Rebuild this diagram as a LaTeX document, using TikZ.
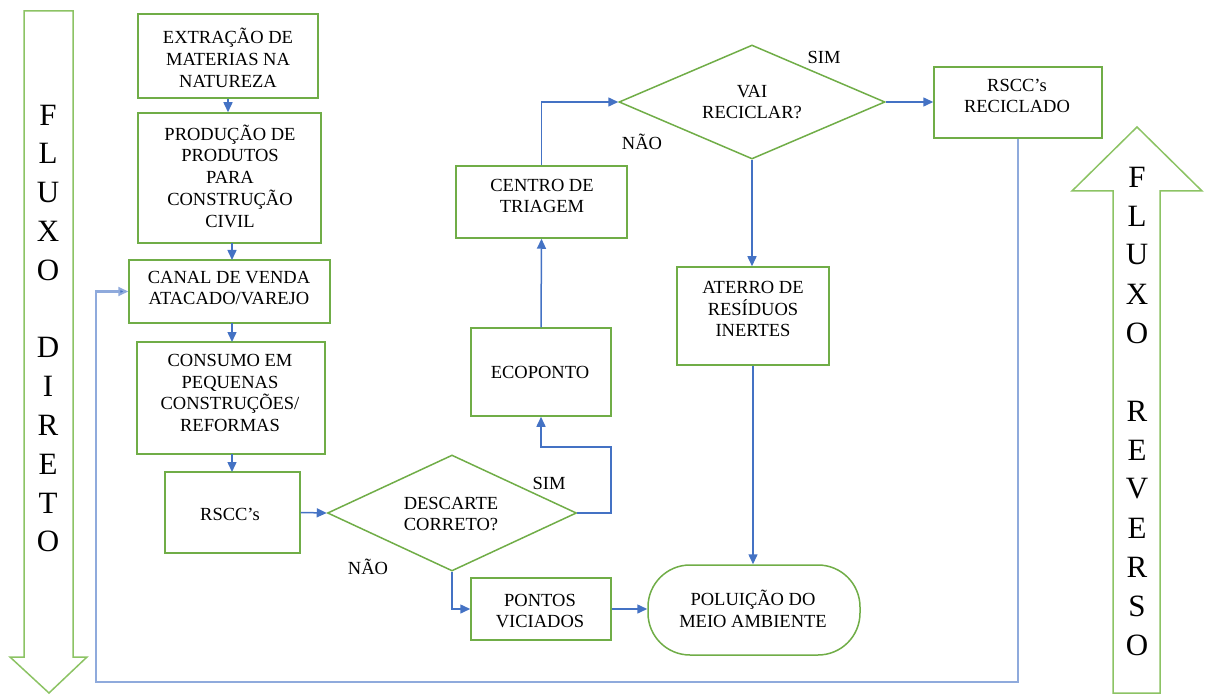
\documentclass[tikz,border=0pt]{standalone}
\usepackage{fontspec}
\setmainfont{Liberation Serif}
\usetikzlibrary{arrows.meta,shapes.geometric}
\definecolor{boxgreen}{RGB}{112,173,71}
\definecolor{arrgreen}{RGB}{140,195,100}
\definecolor{arrblue}{RGB}{68,114,196}
\definecolor{retblue}{RGB}{143,170,220}
\tikzset{
  box/.style={draw=boxgreen, line width=1.5pt, fill=white, inner sep=0pt, rectangle},
  dia/.style={draw=boxgreen, line width=1.5pt, fill=white, inner sep=0pt, diamond},
  txt/.style={align=center, inner sep=0pt, font=\fontsize{18.5}{21.7}\selectfont},
  lbl/.style={inner sep=0pt, font=\fontsize{18.5}{21.7}\selectfont},
  big/.style={inner sep=0pt, font=\fontsize{31}{36}\selectfont},
  bigarrow/.style={draw=arrgreen, line width=1.5pt, fill=white, line join=miter},
  flow/.style={draw=arrblue, line width=1.5pt, -{Triangle[length=10pt,width=9pt]}},
  ret/.style={draw=retblue, line width=2pt, -{Triangle[length=10pt,width=9pt,fill=arrblue]}},
}
\begin{document}
\begin{tikzpicture}[x=1pt,y=-1pt]
\useasboundingbox (0,0) rectangle (1208,695);

% big flow arrows
\draw[bigarrow] (24,11) -- (73,11) -- (73,657) -- (87,657) -- (49,693) -- (10,657) -- (24,657) -- cycle;
\draw[bigarrow] (1137,127) -- (1202,191) -- (1160,191) -- (1160,693) -- (1113,693) -- (1113,191) -- (1072,191) -- cycle;
\foreach \l [count=\i from 0] in {F,L,U,X,O,,D,I,R,E,T,O}
  \node[big] (ld\i) at (48,{115+38.8*\i}) {\l};
\foreach \l [count=\i from 0] in {F,L,U,X,O,,R,E,V,E,R,S,O}
  \node[big] (lr\i) at (1137,{177+39*\i}) {\l};

% boxes
\node[box, minimum width=180pt, minimum height=84pt] (ext) at (228,56) {};
\node[box, minimum width=183pt, minimum height=130pt] (prod) at (229.5,178) {};
\node[box, minimum width=201pt, minimum height=63pt] (canal) at (229.5,291.5) {};
\node[box, minimum width=188pt, minimum height=112pt] (cons) at (231,398) {};
\node[box, minimum width=135pt, minimum height=81pt] (rscc) at (232.5,512.5) {};
\node[dia, minimum width=249pt, minimum height=116pt] (desc) at (452,513) {};
\node[box, minimum width=140pt, minimum height=62pt] (pont) at (541,609) {};
\node[box, rounded corners=42pt, minimum width=212pt, minimum height=90pt] (polu) at (754,610) {};
\node[box, minimum width=152pt, minimum height=98pt] (ater) at (753,316) {};
\node[box, minimum width=140pt, minimum height=88pt] (eco) at (541,372) {};
\node[box, minimum width=171pt, minimum height=72pt] (cent) at (541.5,202) {};
\node[dia, minimum width=266pt, minimum height=114pt] (vai) at (752,102) {};
\node[box, minimum width=168pt, minimum height=71pt] (recic) at (1018,102.5) {};

% texts
\node[txt] (text) at (228,58) {EXTRAÇÃO DE\\MATERIAS NA\\NATUREZA};
\node[txt] (tprod) at (230,176) {PRODUÇÃO DE\\PRODUTOS\\PARA\\CONSTRUÇÃO\\CIVIL};
\node[txt] (tcanal) at (229,288) {CANAL DE VENDA\\ATACADO/VAREJO};
\node[txt] (tcons) at (230,393) {CONSUMO EM\\PEQUENAS\\CONSTRUÇÕES/\\REFORMAS};
\node[txt] (trscc) at (230,514) {RSCC's};
\node[txt] (tdesc) at (451,514) {DESCARTE\\CORRETO?};
\node[txt] (tpont) at (540,611) {PONTOS\\VICIADOS};
\node[txt] (tpolu) at (753,609) {POLUIÇÃO DO\\MEIO AMBIENTE};
\node[txt] (tater) at (753,309) {ATERRO DE\\RESÍDUOS\\INERTES};
\node[txt] (teco) at (540,372) {ECOPONTO};
\node[txt] (tcent) at (542,196) {CENTRO DE\\TRIAGEM};
\node[txt] (tvai) at (752,102) {VAI\\RECICLAR?};
\node[txt] (trecic) at (1017,96) {RSCC's\\RECICLADO};

% decision labels
\node[lbl] (sim1) at (549,483) {SIM};
\node[lbl] (nao1) at (368,567) {NÃO};
\node[lbl] (sim2) at (824,57) {SIM};
\node[lbl] (nao2) at (642,142) {NÃO};

% connectors
\draw[flow] (ext.south) -- (ext.south |- prod.north);
\draw[flow] (232,243) -- (232,260);
\draw[flow] (232,323) -- (232,342);
\draw[flow] (232,454) -- (232,472);
\draw[flow] (rscc.east) -- (desc.west);
\draw[flow] (desc.east) -| (611,447) -| (eco.south);
\draw[flow] (desc.south) |- (pont.west);
\draw[flow] (pont.east) -- (pont.east -| polu.west);
\draw[flow] (eco.north) -- (cent.south);
\draw[flow] (cent.north) |- (vai.west);
\draw[flow] (vai.east) -- (vai.east -| recic.west);
\draw[flow] (vai.south) -- (vai.south |- ater.north);
\draw[flow] (ater.south) -- (ater.south |- polu.north);
\draw[ret] (recic.south) -- (1018,682) -- (96,682) |- (canal.west);
\end{tikzpicture}
\end{document}
